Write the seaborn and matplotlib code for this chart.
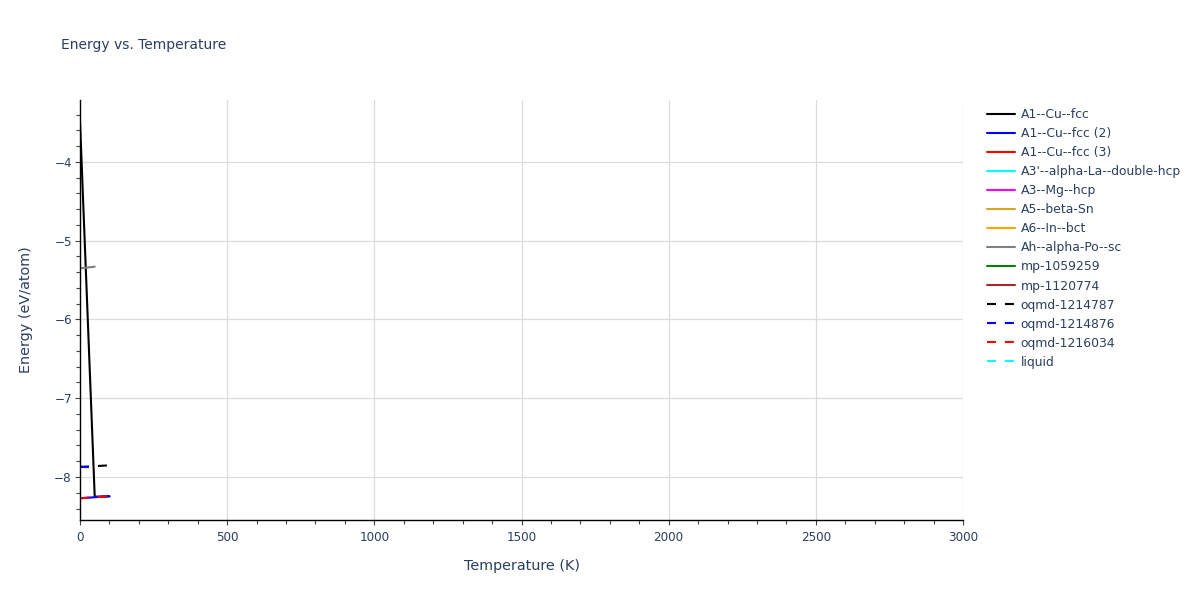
import matplotlib
matplotlib.use("Agg")
import matplotlib.pyplot as plt
from matplotlib.lines import Line2D
from matplotlib.ticker import MultipleLocator
import seaborn as sns

# Datos (T en K, energía en eV/atom)
series_names = [
    "A1--Cu--fcc", "A1--Cu--fcc (2)", "A1--Cu--fcc (3)", "A3'--alpha-La--double-hcp",
    "A3--Mg--hcp", "A5--beta-Sn", "A6--In--bct", "Ah--alpha-Po--sc",
    "mp-1059259", "mp-1120774", "oqmd-1214787", "oqmd-1214876",
    "oqmd-1216034", "liquid",
]
series_colors = [
    "black", "blue", "red", "cyan", "magenta", "goldenrod", "orange", "gray",
    "green", "brown", "black", "blue", "red", "cyan",
]
series_dashed = [False] * 10 + [True] * 4

temps = {
    "A1--Cu--fcc": [0, 50, 100],
    "A1--Cu--fcc (2)": [0, 50, 100],
    "Ah--alpha-Po--sc": [0, 50],
    "oqmd-1214787": [0, 100],
    "oqmd-1214876": [0, 30],
    "oqmd-1216034": [0, 50, 100],
}
energies = {
    "A1--Cu--fcc": [-3.48, -8.25, -8.245],
    "A1--Cu--fcc (2)": [-8.27, -8.257, -8.245],
    "Ah--alpha-Po--sc": [-5.35, -5.33],
    "oqmd-1214787": [-7.872, -7.852],
    "oqmd-1214876": [-7.872, -7.874],
    "oqmd-1216034": [-8.27, -8.257, -8.245],
}

text_color = "#2a3f5f"
dash_pat = (4.3, 4.3)

sns.set_theme(style="white")
plt.rcParams["font.family"] = ["DejaVu Sans"]

fig = plt.figure(figsize=(12, 6), dpi=100)
ax = fig.add_axes([80 / 1200, 80 / 600, 883 / 1200, 420 / 600])

handles = []
for name, color, dashed in zip(series_names, series_colors, series_dashed):
    ls = (0, dash_pat) if dashed else "-"
    if name in temps:
        sns.lineplot(x=temps[name], y=energies[name], ax=ax, color=color,
                     linewidth=1.5, linestyle=ls, sort=False, estimator=None)
    handles.append(Line2D([], [], color=color, linewidth=1.5, linestyle=ls, label=name))

ax.set_xlim(0, 3000)
ax.set_ylim(-8.546, -3.213)
ax.xaxis.set_major_locator(MultipleLocator(500))
ax.xaxis.set_minor_locator(MultipleLocator(100))
ax.yaxis.set_major_locator(MultipleLocator(1))
ax.yaxis.set_minor_locator(MultipleLocator(0.2))
ax.grid(True, which="major", color="#dcdcdc", linewidth=0.9)
ax.tick_params(which="major", direction="out", length=3.6, width=0.8, color="#444444",
               labelsize=8.64, labelcolor=text_color, bottom=True, left=True)
ax.tick_params(axis="x", which="major", pad=4)
ax.tick_params(axis="y", which="major", pad=2.2)
ax.tick_params(which="minor", direction="out", length=2.8, width=0.8, color="#444444",
               bottom=True, left=True)

for side in ["top", "right"]:
    ax.spines[side].set_visible(False)
for side in ["left", "bottom"]:
    ax.spines[side].set_color("black")
    ax.spines[side].set_linewidth(1.0)

ax.set_xlabel("Temperature (K)", fontsize=10.4, color=text_color, labelpad=11)
ax.set_ylabel("Energy (eV/atom)", fontsize=10.4, color=text_color, labelpad=15.5)

fig.text(61 / 1200, 1 - 45 / 600, "Energy vs. Temperature", fontsize=10,
         color=text_color, va="center", ha="left")

leg = fig.legend(handles=handles, loc="upper left", bbox_to_anchor=(987 / 1200, 1 - 108 / 600),
                 frameon=False, fontsize=8.9, handlelength=2.3, handletextpad=0.42,
                 labelspacing=0.49, borderaxespad=0, borderpad=0)
for t in leg.get_texts():
    t.set_color(text_color)

fig.savefig("out.png", dpi=100)
